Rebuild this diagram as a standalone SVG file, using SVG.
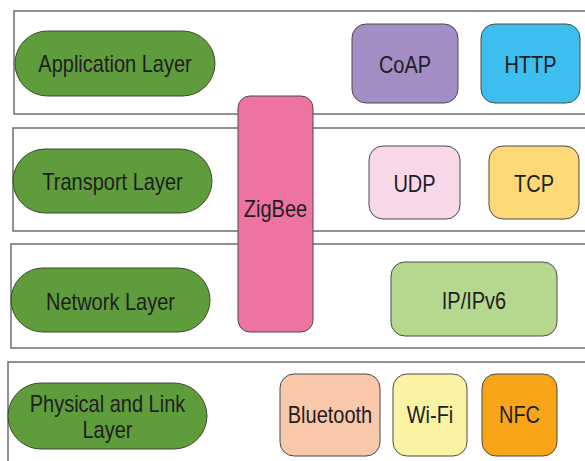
<svg xmlns="http://www.w3.org/2000/svg" width="585" height="461" viewBox="0 0 585 461">
<style>
.layer{fill:#fff;stroke:#6e6e6e;stroke-width:1.5}
.pill{fill:#5f9c3c;stroke:#3a4a30;stroke-width:1}
.box{stroke:#4a4a4a;stroke-width:1}
text{font-family:"Liberation Sans",Arial,sans-serif;font-size:20px;fill:#1e1e1e;text-anchor:middle}
</style>
<rect width="585" height="461" fill="#fff"/>
<g id="layers">
<rect class="layer" x="14" y="11" width="590" height="103"/>
<rect class="layer" x="13" y="128" width="590" height="103"/>
<rect class="layer" x="11" y="244" width="590" height="104"/>
<rect class="layer" x="8" y="362" width="590" height="110"/>
</g>
<g id="app-layer"><rect class="pill" x="15" y="31" width="200" height="65" rx="32.5"/><text transform="translate(115,72) scale(1,1.18)">Application Layer</text></g>
<g id="transport-layer"><rect class="pill" x="13" y="149" width="199" height="64" rx="32"/><text transform="translate(112.5,190) scale(1,1.18)">Transport Layer</text></g>
<g id="network-layer"><rect class="pill" x="11" y="268" width="199" height="64" rx="32"/><text transform="translate(110.5,310) scale(1,1.18)">Network Layer</text></g>
<g id="physical-layer"><rect class="pill" x="8" y="383" width="199" height="66" rx="33"/><text transform="translate(107.5,412) scale(1,1.18)">Physical and Link</text><text transform="translate(107.5,438) scale(1,1.18)">Layer</text></g>
<g id="zigbee"><rect class="box" x="238" y="96" width="75" height="236" rx="12" fill="#ee73a1"/><text transform="translate(275.5,217) scale(1,1.18)">ZigBee</text></g>
<g id="coap"><rect class="box" x="352" y="24" width="106" height="79" rx="14" fill="#a48dc5"/><text transform="translate(405,73) scale(1,1.18)">CoAP</text></g>
<g id="http"><rect class="box" x="481" y="24" width="99" height="79" rx="14" fill="#3cbfee"/><text transform="translate(530.5,73) scale(1,1.18)">HTTP</text></g>
<g id="udp"><rect class="box" x="369" y="146" width="91" height="73" rx="14" fill="#f9d8ea"/><text transform="translate(414.5,192) scale(1,1.18)">UDP</text></g>
<g id="tcp"><rect class="box" x="489" y="146" width="90" height="73" rx="14" fill="#fdd977"/><text transform="translate(534,192) scale(1,1.18)">TCP</text></g>
<g id="ip"><rect class="box" x="391" y="262" width="166" height="74" rx="14" fill="#b6d88e"/><text transform="translate(474,309) scale(1,1.18)">IP/IPv6</text></g>
<g id="bluetooth"><rect class="box" x="280" y="374" width="100" height="82" rx="14" fill="#f9c8aa"/><text transform="translate(330,423) scale(1,1.18)">Bluetooth</text></g>
<g id="wifi"><rect class="box" x="393" y="374" width="74" height="82" rx="14" fill="#faf3a3"/><text transform="translate(430,423) scale(1,1.18)">Wi-Fi</text></g>
<g id="nfc"><rect class="box" x="482" y="374" width="75" height="82" rx="14" fill="#f9a519"/><text transform="translate(519.5,423) scale(1,1.18)">NFC</text></g>
<g id="connectors"></g>
</svg>
